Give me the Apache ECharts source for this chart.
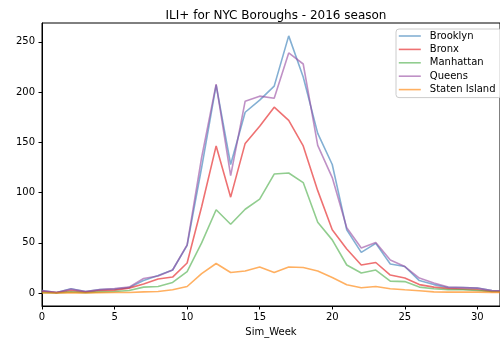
<!DOCTYPE html>
<html>
<head>
<meta charset="utf-8">
<script src="https://cdn.jsdelivr.net/npm/echarts@6/dist/echarts.min.js"></script>
<style>
  html, body { margin: 0; padding: 0; background: #fff; }
  #chart { width: 500px; height: 341px; }
</style>
</head>
<body>
<div id="chart"></div>
<script>
// Weekly ILI+ values per borough, 2016 season
const weeks = [0,1,2,3,4,5,6,7,8,9,10,11,12,13,14,15,16,17,18,19,20,21,22,23,24,25,26,27,28,29,30,31,32];
const brooklyn = [2.5,0.7,4.3,1.5,3.5,4,5.5,12.5,17.5,23,47.5,125,207,128,180,192,206,256,215,159,128,63,40.5,49.5,29,26.5,12.5,8.5,5.5,5.5,5,2.5,2];
const bronx = [1.7,0.5,2.6,1,2.6,3,5,9,14,16,30,86,146.5,95.5,149,166,185,172,146.5,102,63,44,28,30.5,18,15,8.5,6,4.5,4,3.3,1.7,1.5];
const manhattan = [0.7,0.3,1.3,0.5,1.3,1.7,2.6,6,6.6,10.6,21.5,50,83,68.5,83.5,93.5,118.5,119.5,110,70.5,53,28,20,23,12,11.5,6,4.3,3.3,3.3,2.6,1.7,1.5];
const queens = [2.5,0.7,4,1.5,3.5,4.5,6,14.5,17,23,48,135,208,117,191,196,194,239,228,147,115,65,45,50.5,33,26.5,15,10,6,5.5,5,2.5,2];
const statenIsland = [0.2,0.1,0.5,0.2,0.5,0.7,0.7,1.3,1.7,3.3,6.6,19.5,29.5,20.5,22,26,20.5,26,25.5,22,15.5,8.3,5.3,6.6,4.3,3.3,2.4,1.3,1,1,1,0.8,0.8];
const yTicks = [0, 50, 100, 150, 200, 250];

const boroughs = [
  { name: 'Brooklyn', values: brooklyn, color: '#377eb8' },
  { name: 'Bronx', values: bronx, color: '#e41a1c' },
  { name: 'Manhattan', values: manhattan, color: '#4daf4a' },
  { name: 'Queens', values: queens, color: '#984ea3' },
  { name: 'Staten Island', values: statenIsland, color: '#ff7f00' }
];

const FONT = 'DejaVu Sans';
const chart = echarts.init(document.getElementById('chart'), null, { renderer: 'canvas' });

chart.setOption({
  animation: false,
  backgroundColor: '#fff',
  textStyle: { fontFamily: FONT },
  title: {
    text: 'ILI+ for NYC Boroughs - 2016 season',
    left: 271,
    textAlign: 'center',
    top: 5,
    textStyle: { fontFamily: FONT, fontSize: 12, fontWeight: 'normal', color: '#000' }
  },
  grid: {
    left: 42, right: 0, top: 23, bottom: 35,
    outerBoundsMode: 'none',
    containLabel: false,
    show: true, borderColor: '#000', borderWidth: 1, backgroundColor: 'transparent'
  },
  legend: {
    orient: 'vertical',
    left: 396, top: 29,
    padding: [2, 6, 3, 2],
    itemWidth: 22, itemHeight: 12, itemGap: 3.4,
    backgroundColor: 'rgba(255,255,255,0.8)',
    borderColor: '#cccccc', borderWidth: 1, borderRadius: 3,
    itemStyle: { opacity: 0 },
    lineStyle: { width: 1.6 },
    textStyle: { fontFamily: FONT, fontSize: 10, color: '#000', padding: [0, 0, 0, 4] },
    data: boroughs.map(b => b.name)
  },
  xAxis: {
    type: 'value',
    min: 0, max: 31.56, interval: 5,
    name: 'Sim_Week', nameLocation: 'middle', nameGap: 21,
    nameTextStyle: { fontFamily: FONT, fontSize: 10, color: '#000' },
    axisLine: { show: true, onZero: false, lineStyle: { color: '#000', width: 1 } },
    axisTick: { show: true, inside: false, length: 3.5, lineStyle: { color: '#000' } },
    axisLabel: { fontFamily: FONT, fontSize: 10, color: '#000', margin: 6, showMaxLabel: false },
    splitLine: { show: false }
  },
  yAxis: {
    type: 'value',
    min: -12.8, max: 268.8,
    axisLine: { show: true, onZero: false, lineStyle: { color: '#000', width: 1 } },
    axisTick: { show: true, inside: false, length: 3.5, lineStyle: { color: '#000' }, customValues: yTicks },
    axisLabel: { fontFamily: FONT, fontSize: 10, color: '#000', margin: 7, customValues: yTicks },
    splitLine: { show: false }
  },
  series: boroughs.map(b => ({
    name: b.name,
    type: 'line',
    symbol: 'none',
    data: weeks.map((w, i) => [w, b.values[i]]),
    color: b.color,
    lineStyle: { color: b.color, width: 1.6, opacity: 0.62 },
    itemStyle: { color: b.color, opacity: 0.62 },
    emphasis: { disabled: true }
  }))
});
</script>
</body>
</html>
